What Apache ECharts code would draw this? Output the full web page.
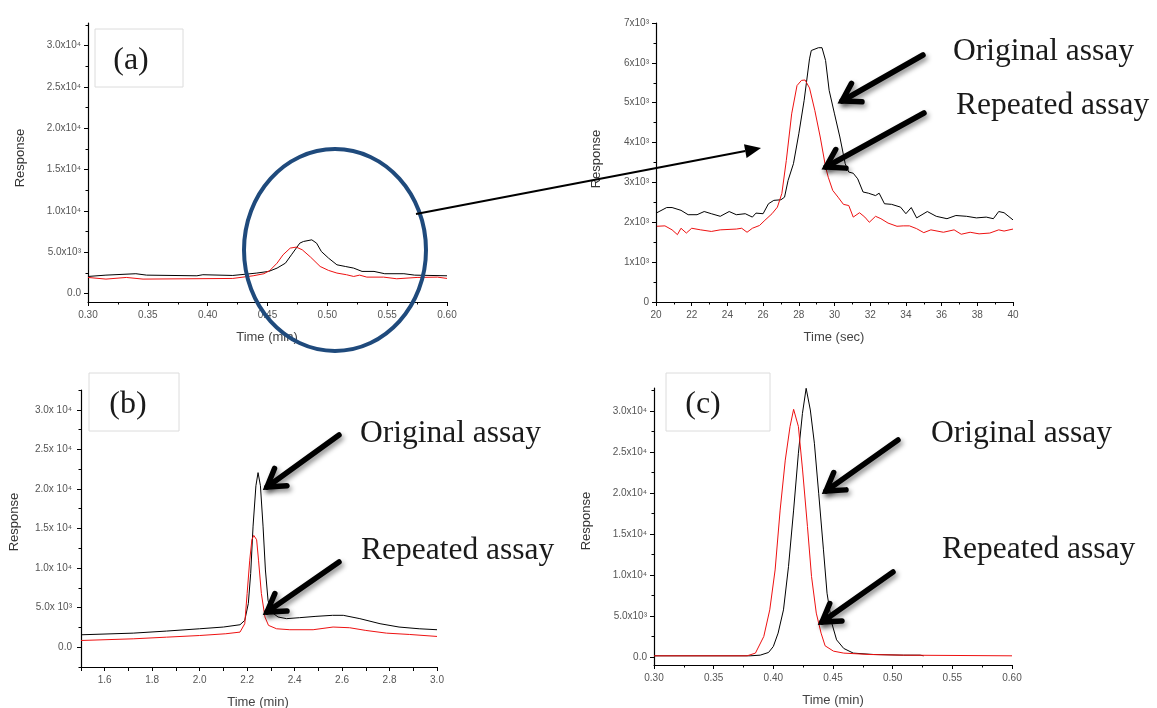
<!DOCTYPE html>
<html>
<head>
<meta charset="utf-8">
<script src="https://cdn.jsdelivr.net/npm/echarts@6/dist/echarts.min.js"></script>
<style>html,body{margin:0;padding:0;background:#fff;}#c{width:1157px;height:708px;}</style>
</head>
<body>
<div id="c"></div>
<script>
// ---------- DATA ----------
// Panel (a): full run, time in min
const aOrigT = [0.300,0.315,0.340,0.349,0.391,0.396,0.421,0.433,0.441,0.451,0.458,0.465,0.470,0.477,0.480,0.487,0.491,0.495,0.501,0.508,0.515,0.522,0.529,0.539,0.548,0.564,0.573,0.600];
const aOrigY = [2090,2250,2420,2250,2170,2300,2210,2380,2500,2700,3100,3700,4710,6120,6320,6520,6120,5110,4310,3500,3300,3100,2700,2700,2420,2420,2250,2170];
const aRepT = [0.300,0.315,0.332,0.346,0.421,0.438,0.447,0.452,0.458,0.463,0.469,0.474,0.479,0.486,0.494,0.501,0.508,0.516,0.522,0.527,0.533,0.547,0.558,0.575,0.592,0.600];
const aRepY = [1970,1770,1970,1770,1850,2170,2420,2820,3700,4710,5520,5640,5320,4430,3300,2820,2500,2300,2090,2250,2010,2010,1810,1970,2010,1850];

// Zoomed panel: time in sec
const zOrigT = [20.05,20.6,20.9,21.4,21.8,22.3,22.7,23.1,23.6,24.1,24.5,25.0,25.4,25.6,26.0,26.3,26.6,27.0,27.2,27.4,27.7,28.0,28.3,28.6,28.7,29.1,29.3,29.5,29.7,30.0,30.3,30.6,30.8,31.05,31.3,31.6,31.9,32.3,32.5,32.8,33.2,33.7,34.0,34.3,34.6,35.2,35.7,36.3,36.8,37.4,37.95,38.5,38.9,39.2,39.5,40.0];
const zOrigY = [2240,2370,2370,2300,2190,2190,2270,2215,2150,2270,2190,2215,2130,2230,2215,2465,2550,2565,2630,3050,3470,4220,5060,6100,6310,6380,6380,6060,5310,4720,4140,3470,3260,3230,3090,2760,2730,2670,2730,2465,2450,2380,2215,2370,2110,2270,2150,2090,2170,2150,2110,2130,2090,2270,2240,2060];
const zRepT = [20.05,20.5,20.9,21.2,21.4,21.7,22.0,22.5,23.1,23.6,24.5,24.8,25.1,25.4,25.8,26.1,26.5,26.8,27.05,27.3,27.6,27.9,28.15,28.35,28.6,28.9,29.2,29.5,29.65,29.9,30.2,30.5,30.8,31.05,31.4,31.7,31.95,32.3,32.6,33.0,33.5,33.85,34.2,34.6,35.0,35.4,36.1,36.7,37.1,37.6,38.1,38.7,39.2,39.5,40.0];
const zRepY = [1900,1910,1810,1690,1850,1730,1850,1810,1770,1810,1830,1850,1750,1850,1920,2050,2215,2380,2720,3550,4720,5430,5560,5570,5370,4800,4140,3390,3130,2800,2630,2450,2420,2130,2240,2130,2000,2150,2090,1980,1900,1910,1910,1840,1740,1810,1750,1810,1700,1750,1710,1730,1810,1780,1830];

// Panel (b): time in min
const bOrigT = [1.50,1.72,1.86,2.00,2.10,2.17,2.19,2.205,2.215,2.225,2.237,2.246,2.256,2.267,2.277,2.288,2.302,2.33,2.366,2.42,2.49,2.56,2.605,2.675,2.76,2.84,2.925,3.00];
const bOrigY = [1570,1780,2040,2330,2550,2840,3390,5520,9330,15300,20400,22060,20400,15300,9760,5940,4450,3820,3610,3730,3900,4030,4030,3610,2970,2550,2330,2210];
const bRepT = [1.50,1.72,1.86,2.00,2.11,2.17,2.19,2.20,2.211,2.22,2.228,2.24,2.248,2.26,2.275,2.29,2.324,2.38,2.478,2.562,2.632,2.70,2.787,2.885,3.00];
const bRepY = [850,1060,1270,1480,1700,1910,2970,6790,11000,13580,14130,13580,11000,6790,3820,2760,2330,2210,2210,2550,2460,2120,1780,1610,1360];

// Panel (c): time in min
const cOrigT = [0.300,0.3805,0.389,0.396,0.400,0.404,0.4085,0.4127,0.417,0.421,0.4244,0.4275,0.431,0.4344,0.438,0.442,0.445,0.449,0.453,0.459,0.467,0.484,0.509,0.523,0.526];
const cOrigY = [120,120,200,530,1260,2890,5730,11000,17900,24840,29700,32760,30120,26060,19960,13050,7760,4100,2070,1020,450,280,200,200,120];
const cRepT = [0.300,0.378,0.385,0.392,0.397,0.4015,0.4057,0.410,0.414,0.417,0.421,0.4245,0.4286,0.432,0.436,0.440,0.4434,0.4504,0.459,0.481,0.509,0.600];
const cRepY = [120,120,450,2480,5730,10600,17900,24000,28100,30200,28100,22800,15900,9800,5330,2890,1340,690,450,280,200,120];

// Tick values
const xTicksMin = [0.30,0.35,0.40,0.45,0.50,0.55,0.60];
const xMinorMin = [0.325,0.375,0.425,0.475,0.525,0.575];
const xTicksSec = [20,22,24,26,28,30,32,34,36,38,40];
const xMinorSec = [21,23,25,27,29,31,33,35,37,39];
const xTicksB = [1.5,1.6,1.7,1.8,1.9,2.0,2.1,2.2,2.3,2.4,2.5,2.6,2.7,2.8,2.9,3.0];
const xLabelsB = [1.6,1.8,2.0,2.2,2.4,2.6,2.8,3.0];
const yTicks4 = [0,5000,10000,15000,20000,25000,30000];
const yMinor4 = [2500,7500,12500,17500,22500,27500,32500];
const yMinor4b = [-2500,2500,7500,12500,17500,22500,27500,32500];
const yTicks3 = [0,1000,2000,3000,4000,5000,6000,7000];
const yMinor3 = [500,1500,2500,3500,4500,5500,6500];

const fmtY4 = v => v === 0 ? '0.0' : (v < 10000 ? (v/1000).toFixed(1) + 'x10\u00B3' : (v/10000).toFixed(1) + 'x10\u2074');
const fmtY4b = v => v === 0 ? '0.0' : (v < 10000 ? (v/1000).toFixed(1) + 'x 10\u00B3' : (v/10000).toFixed(1) + 'x 10\u2074');
const fmtY3 = v => v === 0 ? '0' : (v/1000) + 'x10\u00B3';

// ---------- CHART ----------
const LBL = {fontSize: 10, color: '#555', fontFamily: '"Liberation Sans", Arial, sans-serif'};
const grids = [
  {left: 88, top: 23, width: 359, height: 279},
  {left: 656, top: 23, width: 357, height: 279},
  {left: 81, top: 390, width: 356, height: 277},
  {left: 654, top: 388, width: 358, height: 277}
];
const xAxes = [], yAxes = [];
function addAxes(g, xmin, xmax, xTicks, xLabels, xMinor, xFmt, ymin, ymax, yTicks, yMinor, yFmt, yMargin) {
  xAxes.push({type: 'value', gridIndex: g, min: xmin, max: xmax, position: 'bottom',
    axisLine: {show: true, onZero: false, lineStyle: {color: '#000', width: 1.2}},
    axisTick: {show: true, customValues: xTicks, length: 4, lineStyle: {color: '#000'}},
    axisLabel: Object.assign({customValues: xLabels, formatter: xFmt, margin: 8}, LBL),
    splitLine: {show: false}});
  xAxes.push({type: 'value', gridIndex: g, min: xmin, max: xmax, position: 'bottom',
    axisLine: {show: false, onZero: false},
    axisTick: {show: xMinor.length > 0, customValues: xMinor, length: 2.5, lineStyle: {color: '#000'}},
    axisLabel: {show: false}, splitLine: {show: false}});
  yAxes.push({type: 'value', gridIndex: g, min: ymin, max: ymax, position: 'left',
    axisLine: {show: true, onZero: false, lineStyle: {color: '#000', width: 1.2}},
    axisTick: {show: true, customValues: yTicks, length: 4, lineStyle: {color: '#000'}},
    axisLabel: Object.assign({customValues: yTicks, formatter: yFmt, margin: yMargin}, LBL),
    splitLine: {show: false}});
  yAxes.push({type: 'value', gridIndex: g, min: ymin, max: ymax, position: 'left',
    axisLine: {show: false, onZero: false},
    axisTick: {show: true, customValues: yMinor, length: 2.5, lineStyle: {color: '#000'}},
    axisLabel: {show: false}, splitLine: {show: false}});
}
addAxes(0, 0.30, 0.60, xTicksMin, xTicksMin, xMinorMin, v => v.toFixed(2), -1000, 32750, yTicks4, yMinor4, fmtY4, 7);
addAxes(1, 20, 40, xTicksSec, xTicksSec, xMinorSec, v => String(v), 0, 7000, yTicks3, yMinor3, fmtY3, 7);
addAxes(2, 1.5, 3.0, xTicksB, xLabelsB, [], v => v.toFixed(1), -2500, 32500, yTicks4, yMinor4b, fmtY4b, 9);
addAxes(3, 0.30, 0.60, xTicksMin, xTicksMin, xMinorMin, v => v.toFixed(2), -1000, 32800, yTicks4, yMinor4, fmtY4, 7);

const zip = (t, y) => t.map((v, i) => [v, y[i]]);
function ln(g, t, y, color) {
  return {type: 'line', xAxisIndex: 2*g, yAxisIndex: 2*g, data: zip(t, y), symbol: 'none',
    lineStyle: {color: color, width: 1}, itemStyle: {color: color}, silent: true};
}
const series = [
  ln(0, aOrigT, aOrigY, '#000'), ln(0, aRepT, aRepY, '#ee1111'),
  ln(1, zOrigT, zOrigY, '#000'), ln(1, zRepT, zRepY, '#ee1111'),
  ln(2, bOrigT, bOrigY, '#000'), ln(2, bRepT, bRepY, '#ee1111'),
  ln(3, cOrigT, cOrigY, '#000'), ln(3, cRepT, cRepY, '#ee1111')
];

// ---------- ANNOTATIONS ----------
const G = [];
const SANS = '"Liberation Sans", Arial, sans-serif';
const SERIF = '"Liberation Serif", "Times New Roman", serif';
function txt(x, y, s, font, color, rot) {
  G.push({type: 'text', x: x, y: y, rotation: rot || 0, z: 100,
    style: {text: s, font: font, fill: color || '#111', textAlign: 'center', textVerticalAlign: 'middle'}});
}
function ltxt(x, y, s) {
  G.push({type: 'text', x: x, y: y, z: 100,
    style: {text: s, font: '31.5px ' + SERIF, fill: '#1a1a1a', textAlign: 'left', textVerticalAlign: 'middle'}});
}
function box(x, y, w, h, s, tx, ty) {
  G.push({type: 'rect', shape: {x: x, y: y, width: w, height: h}, z: 90,
    style: {fill: '#fff', stroke: '#dcdcdc', lineWidth: 1}});
  txt(tx, ty, s, '32px ' + SERIF, '#1a1a1a');
}
function bigArrow(x1, y1, x2, y2) {
  const ang = Math.atan2(y1 - y2, x1 - x2);
  const L = 20, a = 0.56;
  const sh = {shadowBlur: 5, shadowColor: 'rgba(0,0,0,0.45)', shadowOffsetX: 2, shadowOffsetY: 3};
  G.push({type: 'line', z: 100, shape: {x1: x1, y1: y1, x2: x2, y2: y2},
    style: Object.assign({stroke: '#000', lineWidth: 5.5, lineCap: 'round'}, sh)});
  G.push({type: 'polyline', z: 100, shape: {points: [
      [x2 + L*Math.cos(ang + a), y2 + L*Math.sin(ang + a)], [x2, y2],
      [x2 + L*Math.cos(ang - a), y2 + L*Math.sin(ang - a)]]},
    style: Object.assign({stroke: '#000', lineWidth: 5.5, lineCap: 'round', lineJoin: 'miter', fill: null}, sh)});
}

// axis names
txt(20, 158, 'Response', '13px ' + SANS, '#333', Math.PI/2);
txt(596, 159, 'Response', '13px ' + SANS, '#333', Math.PI/2);
txt(14, 522, 'Response', '13px ' + SANS, '#333', Math.PI/2);
txt(586, 521, 'Response', '13px ' + SANS, '#333', Math.PI/2);
txt(267, 337, 'Time (min)', '13px ' + SANS, '#444');
txt(834, 337, 'Time (sec)', '13px ' + SANS, '#444');
txt(258, 702, 'Time (min)', '13px ' + SANS, '#444');
txt(833, 700, 'Time (min)', '13px ' + SANS, '#444');

// panel boxes
box(95, 29, 88, 58, '(a)', 131, 61);
box(89, 373, 90, 58, '(b)', 128, 405);
box(666, 373, 104, 58, '(c)', 703, 405);

// circle + pointer
G.push({type: 'ellipse', z: 100, shape: {cx: 335, cy: 250, rx: 91, ry: 101},
  style: {fill: null, stroke: '#1f4a7c', lineWidth: 4}});
(function () {
  const x1 = 416, y1 = 214, x2 = 761, y2 = 148;
  const d = Math.hypot(x2 - x1, y2 - y1), ux = (x2 - x1)/d, uy = (y2 - y1)/d;
  const bx = x2 - 16*ux, by = y2 - 16*uy;
  G.push({type: 'line', z: 100, shape: {x1: x1, y1: y1, x2: bx, y2: by}, style: {stroke: '#000', lineWidth: 2}});
  G.push({type: 'polygon', z: 100, shape: {points: [[x2, y2], [bx - 7*uy, by + 7*ux], [bx + 7*uy, by - 7*ux]]},
    style: {fill: '#000'}});
})();

// labels and arrows
ltxt(953, 52, 'Original assay');
ltxt(956, 106, 'Repeated assay');
bigArrow(923, 55, 842, 101);
bigArrow(924, 113, 826, 167);

ltxt(360, 434, 'Original assay');
ltxt(361, 551, 'Repeated assay');
bigArrow(339, 435, 267, 487);
bigArrow(339, 562, 267, 612);

ltxt(931, 434, 'Original assay');
ltxt(942, 550, 'Repeated assay');
bigArrow(898, 440, 826, 491);
bigArrow(893, 572, 822, 622);

const chart = echarts.init(document.getElementById('c'), null, {renderer: 'canvas'});
chart.setOption({
  animation: false,
  backgroundColor: '#fff',
  grid: grids,
  xAxis: xAxes,
  yAxis: yAxes,
  series: series,
  graphic: {elements: G}
});
</script>
</body>
</html>
